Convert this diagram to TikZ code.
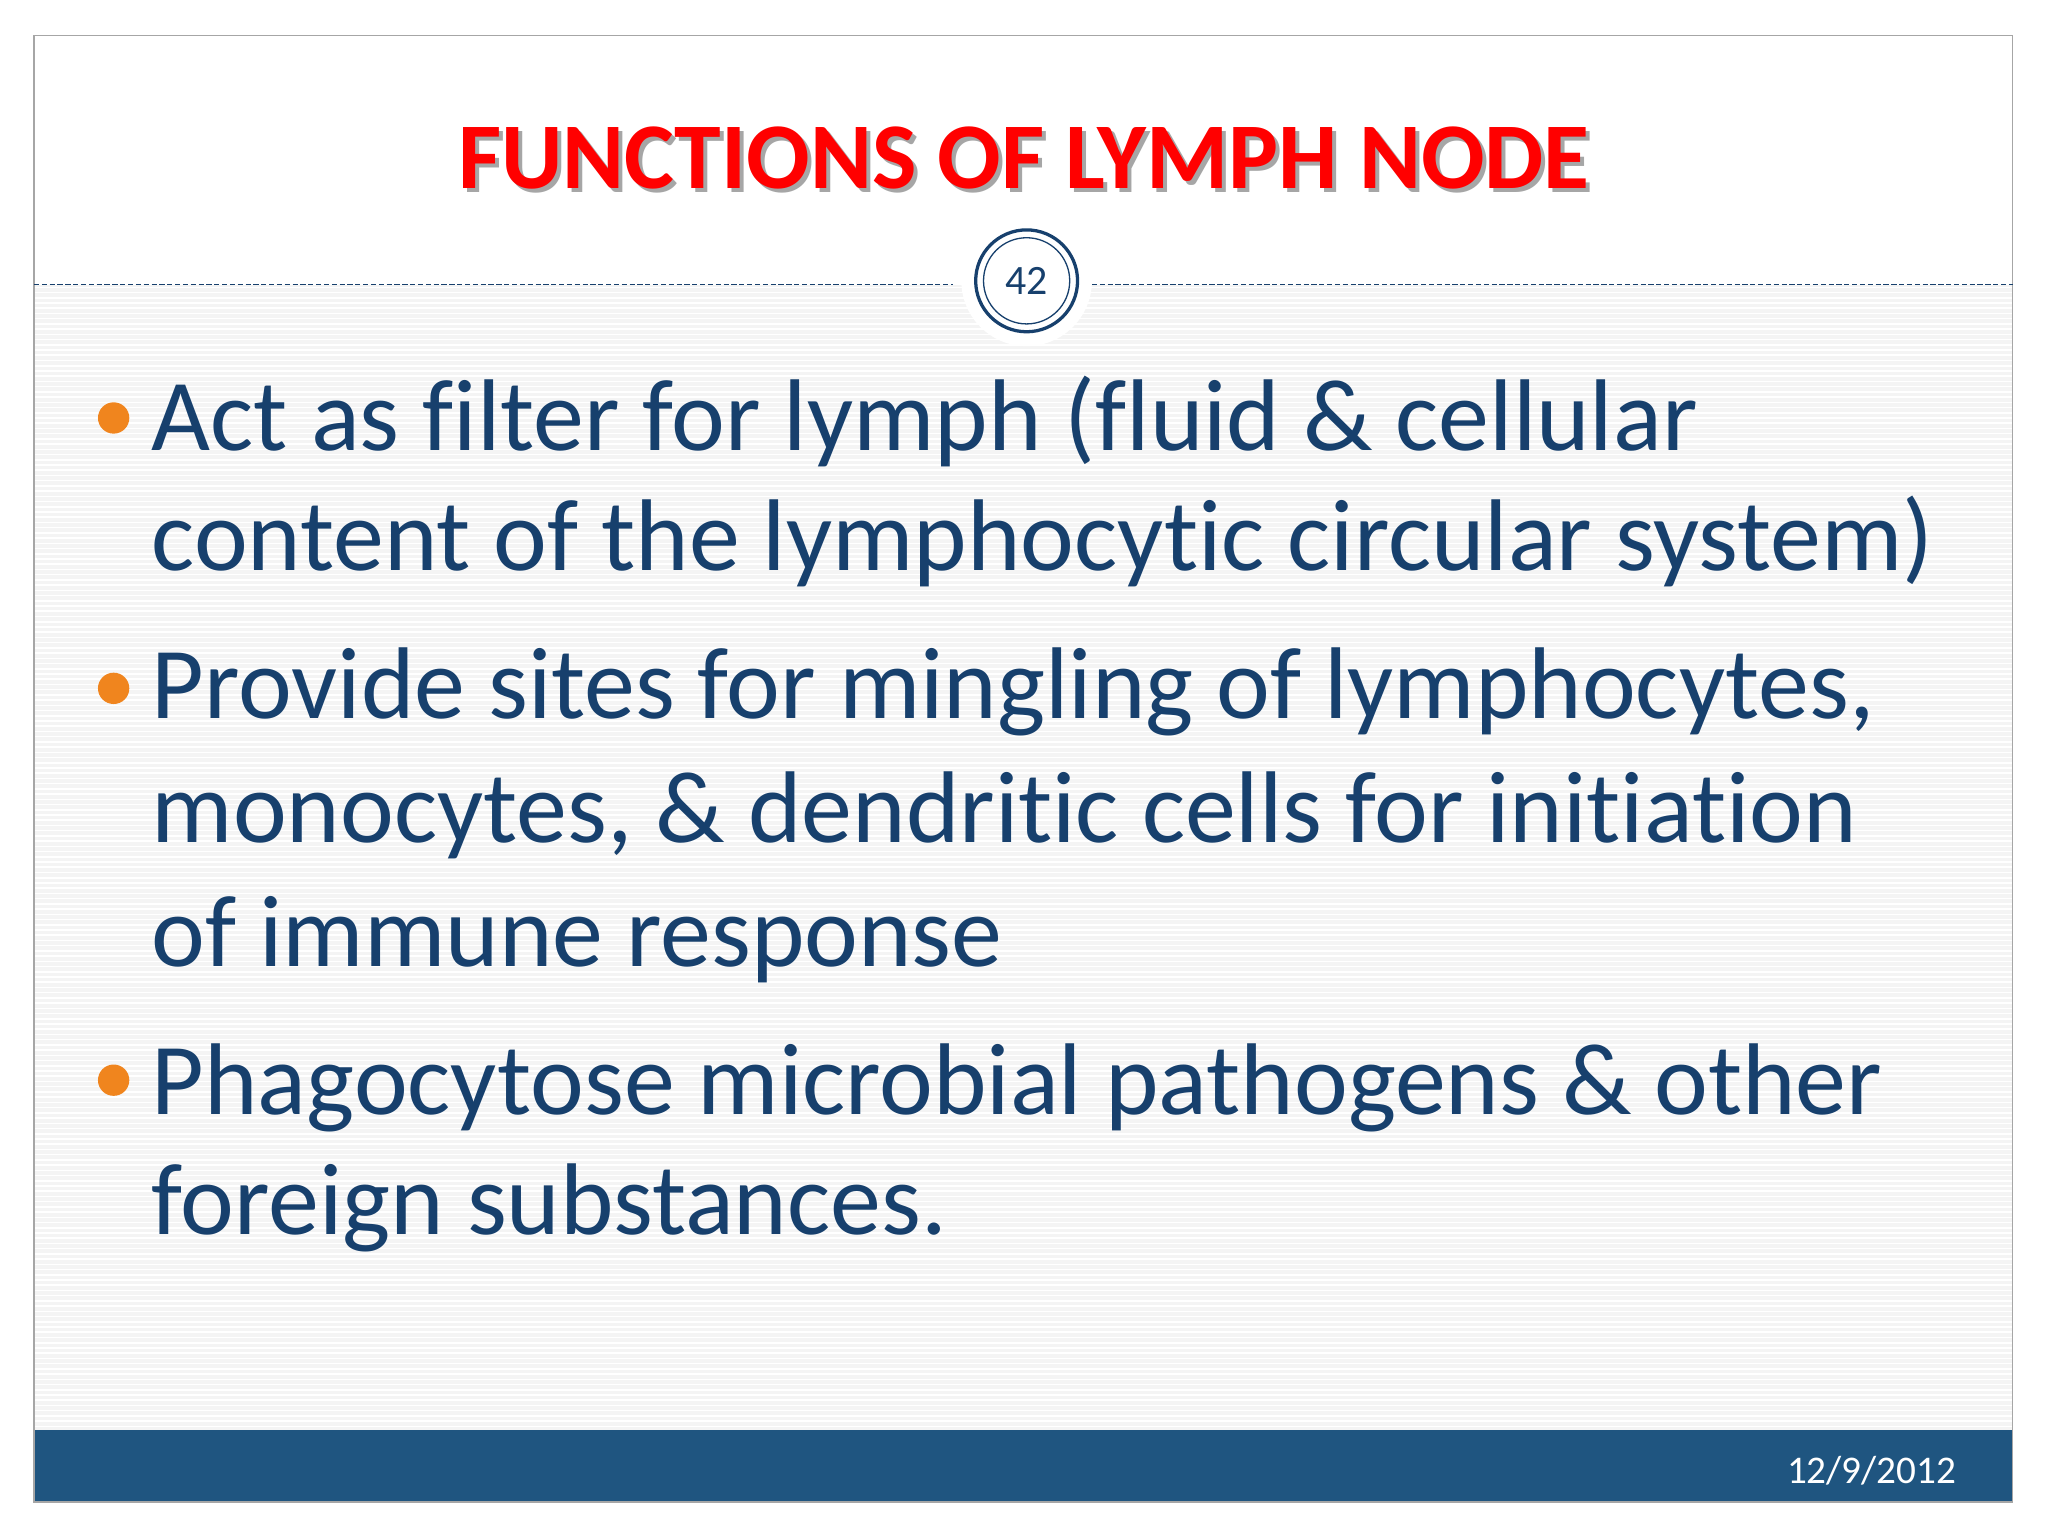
\documentclass[tikz,border=0pt]{standalone}
\usepackage{fontspec}
\setmainfont{Carlito}[RawFeature=-liga]
\definecolor{tblue}{HTML}{17406D}
\definecolor{barblue}{HTML}{1F5580}
\definecolor{borange}{HTML}{F0851E}
\begin{document}
\begin{tikzpicture}[x=1pt,y=-1pt,
  btext/.style={anchor=base west,inner sep=0pt,font=\fontsize{78}{78}\selectfont,text=tblue},
  bul/.style={circle,fill=borange,minimum size=24pt,inner sep=0pt}]
\useasboundingbox (0,0) rectangle (1568,1176);
\fill[white] (0,0) rectangle (1568,1176);
\fill[gray!9] (26,218) rectangle (1541,1095);
\foreach \y in {220,224,...,1094} \draw[white,line width=1.2pt] (26,\y) -- (1541,\y);
\fill[barblue] (26,1095) rectangle (1541,1150);
\draw[gray!70,line width=1pt] (26,27) rectangle (1541,1150);
\draw[tblue,dash pattern=on 4pt off 2pt,line width=1pt] (26,218) -- (730,218);
\draw[tblue,dash pattern=on 4pt off 2pt,line width=1pt] (836,218) -- (1541,218);
\fill[white] (786,215) circle (50);
\node[circle,draw=tblue,line width=2.5pt,minimum size=78pt,inner sep=0pt] (ring) at (786,215) {};
\node[circle,draw=tblue,line width=1pt,minimum size=66pt,inner sep=0pt,font=\fontsize{32}{32}\selectfont,text=tblue] (num) at (786,215) {42};
\node[anchor=base,font=\bfseries\fontsize{72}{72}\selectfont,text=black!35,inner sep=0pt] at (787,147) {FUNCTIONS OF LYMPH NODE};
\node[anchor=base,font=\bfseries\fontsize{72}{72}\selectfont,text=red,inner sep=0pt] (title) at (784,144) {FUNCTIONS OF LYMPH NODE};
\node[anchor=base east,font=\fontsize{30}{30}\selectfont,text=white,inner sep=0pt] (date) at (1498,1136) {12/9/2012};
\node[bul] (b1) at (87,320) {};
\node[bul] (b2) at (87,527) {};
\node[bul] (b3) at (87,827) {};
\node[btext] (l1) at (116,345) {Act as filter for lymph (fluid \& cellular};
\node[btext] (l2) at (116,437) {content of the lymphocytic circular system)};
\node[btext] (l3) at (116,550) {Provide sites for mingling of lymphocytes,};
\node[btext] (l4) at (116,645) {monocytes, \& dendritic cells for initiation};
\node[btext] (l5) at (116,740) {of immune response};
\node[btext] (l6) at (116,853) {Phagocytose microbial pathogens \& other};
\node[btext] (l7) at (116,945) {foreign substances.};
\end{tikzpicture}
\end{document}
